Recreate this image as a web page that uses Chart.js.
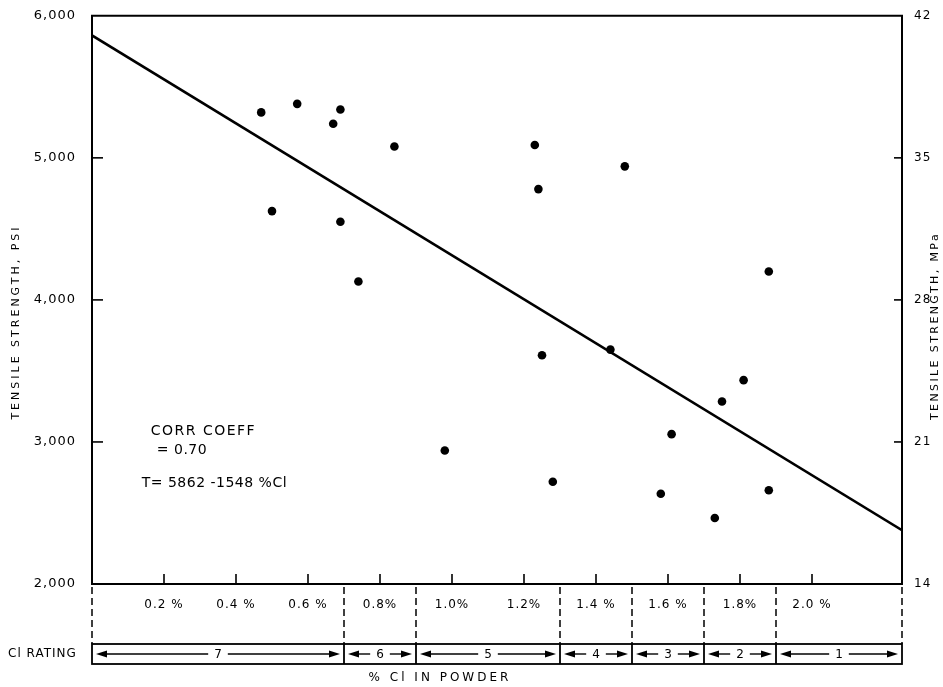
<!DOCTYPE html>
<html>
<head>
<meta charset="utf-8">
<script src="https://cdn.jsdelivr.net/npm/chart.js@4/dist/chart.umd.min.js"></script>
<style>
  html, body { margin: 0; padding: 0; background: #fff; }
  #c { display: block; }
</style>
</head>
<body>
<canvas id="c" width="943" height="687"></canvas>
<script>
// Chloride content of the powder (%) and measured tensile strength (psi)
const clPercent  = [0.47, 0.57, 0.50, 0.67, 0.69, 0.69, 0.74, 0.84, 0.98, 1.23, 1.24,
                    1.25, 1.28, 1.44, 1.48, 1.58, 1.61, 1.73, 1.75, 1.81, 1.88, 1.88];
const tensilePsi = [5320, 5380, 4625, 5240, 5340, 4550, 4130, 5080, 2940, 5090, 4780,
                    3610, 2720, 3650, 4940, 2635, 3055, 2465, 3285, 3435, 2660, 4200];

// Least-squares fit:  T = 5862 - 1548 * %Cl
const fitIntercept = 5862;
const fitSlope = -1548;
const corrCoeff = '0.70';

// Axis ranges and tick labels
const xMax = 2.25;
const xTickLabels   = ['0.2 %', '0.4 %', '0.6 %', '0.8%', '1.0%', '1.2%', '1.4 %', '1.6 %', '1.8%', '2.0 %'];
const psiTickLabels = ['2,000', '3,000', '4,000', '5,000', '6,000'];
const mpaTickLabels = ['14', '21', '28', '35', '42'];

// Cl rating bands along the % Cl axis
const ratingBounds = [0, 0.7, 0.9, 1.3, 1.5, 1.7, 1.9, 2.25];
const ratingLabels = ['7', '6', '5', '4', '3', '2', '1'];

const ink = '#000';
const family = '"DejaVu Sans", "Liberation Sans", Arial, sans-serif';

const points = clPercent.map((x, i) => ({ x, y: tensilePsi[i] }));
const fitLine = [0, xMax].map(x => ({ x, y: fitIntercept + fitSlope * x }));

function drawText(ctx, text, x, y, size, spacing, rot, align) {
  ctx.save();
  ctx.translate(x, y);
  if (rot) ctx.rotate(rot);
  ctx.font = size + 'px ' + family;
  ctx.letterSpacing = spacing + 'px';
  ctx.textAlign = align || 'center';
  ctx.textBaseline = 'middle';
  ctx.fillStyle = ink;
  ctx.fillText(text, 0, 0);
  ctx.restore();
}

function seg(ctx, x1, y1, x2, y2) {
  ctx.beginPath();
  ctx.moveTo(x1, y1);
  ctx.lineTo(x2, y2);
  ctx.stroke();
}

function arrowHead(ctx, x, y, dir) {
  // filled triangle pointing left (dir=-1) or right (dir=1)
  ctx.beginPath();
  ctx.moveTo(x, y);
  ctx.lineTo(x - dir * 11, y - 3.5);
  ctx.lineTo(x - dir * 11, y + 3.5);
  ctx.closePath();
  ctx.fill();
}

const paperPlugin = {
  id: 'paper',
  beforeDraw(chart) {
    const ctx = chart.ctx;
    ctx.save();
    ctx.fillStyle = '#fff';
    ctx.fillRect(0, 0, chart.width, chart.height);
    ctx.restore();
    ctx.letterSpacing = '1px';
  },
  beforeDatasetsDraw(chart) {
    chart.ctx.letterSpacing = '0px';
  },
  afterDraw(chart) {
    const ctx = chart.ctx;
    const { left, right, top, bottom } = chart.chartArea;
    const xS = chart.scales.x, yS = chart.scales.y, y2S = chart.scales.y2;

    ctx.save();
    ctx.strokeStyle = ink;
    ctx.fillStyle = ink;
    ctx.lineCap = 'butt';

    // top frame line
    ctx.lineWidth = 2;
    seg(ctx, left - 1, top, right + 1, top);

    // inward tick marks
    ctx.lineWidth = 1.6;
    yS.ticks.forEach(t => {
      if (t.value > yS.min && t.value < yS.max) {
        const p = yS.getPixelForValue(t.value);
        seg(ctx, left, p, left + 11, p);
      }
    });
    y2S.ticks.forEach(t => {
      if (t.value > y2S.min && t.value < y2S.max) {
        const p = y2S.getPixelForValue(t.value);
        seg(ctx, right, p, right - 8, p);
      }
    });
    xS.ticks.forEach(t => {
      if (t.value > 0.01 && t.value < 2.1) {
        const p = xS.getPixelForValue(t.value);
        seg(ctx, p, bottom, p, bottom - 10);
      }
    });

    // Cl rating band: dashed dividers and boxed arrows
    const boxTop = 644, boxBottom = 664, boxMid = (boxTop + boxBottom) / 2;
    ctx.lineWidth = 1.5;
    ctx.setLineDash([7, 4]);
    ratingBounds.forEach(b => {
      const p = xS.getPixelForValue(b);
      seg(ctx, p, bottom + 3, p, boxTop);
    });
    ctx.setLineDash([]);

    const bx0 = xS.getPixelForValue(ratingBounds[0]);
    const bx1 = xS.getPixelForValue(ratingBounds[ratingBounds.length - 1]);
    ctx.lineWidth = 1.8;
    ctx.strokeRect(bx0, boxTop, bx1 - bx0, boxBottom - boxTop);
    ratingBounds.slice(1, -1).forEach(b => {
      const p = xS.getPixelForValue(b);
      seg(ctx, p, boxTop, p, boxBottom);
    });

    ctx.font = '12px ' + family;
    ratingLabels.forEach((lab, i) => {
      const a = xS.getPixelForValue(ratingBounds[i]) + 4;
      const b = xS.getPixelForValue(ratingBounds[i + 1]) - 4;
      const c = (a + b) / 2;
      const half = ctx.measureText(lab).width / 2 + 6;
      ctx.lineWidth = 1.4;
      seg(ctx, a + 6, boxMid, c - half, boxMid);
      seg(ctx, c + half, boxMid, b - 6, boxMid);
      arrowHead(ctx, a, boxMid, -1);
      arrowHead(ctx, b, boxMid, 1);
      drawText(ctx, lab, c, boxMid + 0.5, 12, 0, 0, 'center');
    });

    // axis titles
    drawText(ctx, 'TENSILE STRENGTH, PSI', 16, 322, 11, 3, -Math.PI / 2);
    drawText(ctx, 'TENSILE STRENGTH, MPa', 935, 326, 11, 2.4, -Math.PI / 2);
    drawText(ctx, '% Cl IN POWDER', 440, 678, 12, 3, 0);
    drawText(ctx, 'Cl RATING', 8, 654, 12, 1, 0, 'left');

    // regression annotation
    drawText(ctx, 'CORR COEFF', xS.getPixelForValue(0.163), yS.getPixelForValue(3074), 14, 1.5, 0, 'left');
    drawText(ctx, '= ' + corrCoeff, xS.getPixelForValue(0.18), yS.getPixelForValue(2941), 14, 0.5, 0, 'left');
    drawText(ctx, 'T= ' + fitIntercept + ' -' + Math.abs(fitSlope) + ' %Cl',
             xS.getPixelForValue(0.138), yS.getPixelForValue(2709), 14, 0.5, 0, 'left');

    ctx.restore();
  }
};

new Chart(document.getElementById('c'), {
  type: 'scatter',
  data: {
    datasets: [
      {
        type: 'line',
        data: fitLine,
        borderColor: ink,
        borderWidth: 2.6,
        pointRadius: 0,
        fill: false,
        tension: 0
      },
      {
        data: points,
        backgroundColor: ink,
        borderColor: ink,
        borderWidth: 0,
        pointRadius: 4.3
      }
    ]
  },
  options: {
    responsive: false,
    animation: false,
    devicePixelRatio: 1,
    layout: { padding: { left: 4, right: 0, top: 13, bottom: 0 } },
    plugins: { legend: { display: false }, tooltip: { enabled: false } },
    scales: {
      x: {
        type: 'linear',
        position: 'bottom',
        min: 0,
        max: xMax,
        grid: { display: false },
        border: { display: true, color: ink, width: 2 },
        ticks: {
          stepSize: 0.2,
          includeBounds: false,
          autoSkip: false,
          maxRotation: 0,
          padding: 6,
          color: ink,
          font: { family, size: 12 },
          callback: v => {
            const i = Math.round(v / 0.2);
            if (Math.abs(v - i * 0.2) > 1e-6) return '';
            return xTickLabels[i - 1] || '';
          }
        },
        afterFit: s => { s.height = 103; }
      },
      y: {
        position: 'left',
        min: 2000,
        max: 6000,
        grid: { display: false },
        border: { display: true, color: ink, width: 2 },
        ticks: {
          stepSize: 1000,
          padding: 8,
          color: ink,
          font: { family, size: 13 },
          callback: v => psiTickLabels[Math.round((v - 2000) / 1000)] || ''
        },
        afterFit: s => { s.width = 88; }
      },
      y2: {
        position: 'right',
        min: 14,
        max: 42,
        grid: { display: false },
        border: { display: true, color: ink, width: 2 },
        ticks: {
          stepSize: 7,
          padding: 4,
          color: ink,
          font: { family, size: 12 },
          callback: v => mpaTickLabels[Math.round((v - 14) / 7)] || ''
        },
        afterFit: s => { s.width = 41; }
      }
    }
  },
  plugins: [paperPlugin]
});
</script>
</body>
</html>
